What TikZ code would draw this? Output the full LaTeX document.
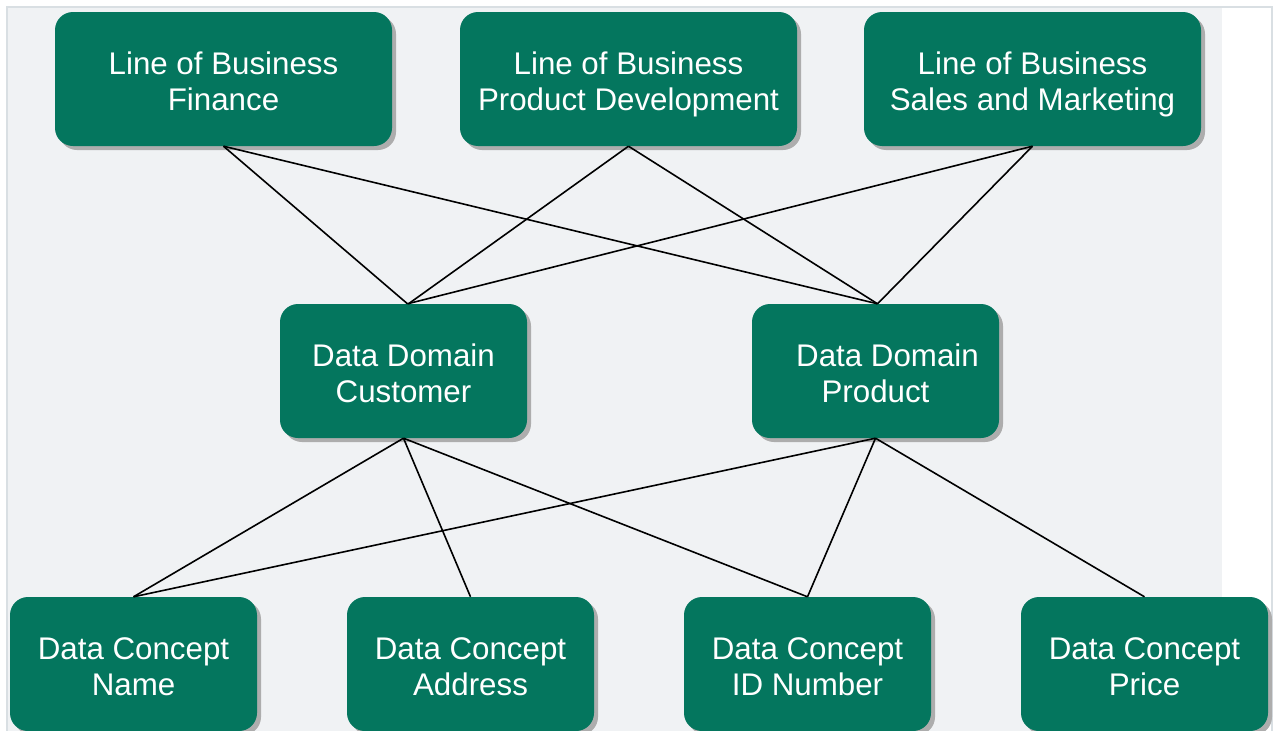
\documentclass[tikz,border=0pt]{standalone}
\usepackage{fontspec}
\setmainfont{Liberation Sans}
\usetikzlibrary{shadows}
\definecolor{boxgreen}{HTML}{04765E}
\definecolor{bggray}{HTML}{F0F2F4}
\definecolor{framegray}{HTML}{D9DFE3}
\newcommand\twolines[2]{\rule{0pt}{26pt}#1\\\smash{#2}}
\tikzset{
  gbox/.style={rectangle, rounded corners=18pt, fill=boxgreen, text=white,
    inner sep=0pt, align=center, font=\fontsize{31.3}{36}\selectfont,
    drop shadow={shadow xshift=4pt, shadow yshift=-4pt, fill=black!32, opacity=1}},
  wide/.style={gbox, minimum width=337pt, minimum height=134pt},
  mid/.style={gbox, minimum width=247pt, minimum height=134pt},
  link/.style={draw=black, line width=1.6pt}
}
\begin{document}
\begin{tikzpicture}[x=1pt,y=-1pt]
\useasboundingbox (0,0) rectangle (1275,731);
\fill[bggray] (7,7) rectangle (1222,735);
\draw[framegray, line width=1.2pt] (7,740) -- (7,7) -- (1272,7) -- (1272,740);
\node[wide] (fin) at (223.5,79) {\twolines{Line of Business}{Finance}};
\node[wide] (dev) at (628.5,79) {\twolines{Line of Business}{Product Development}};
\node[wide] (sal) at (1032.5,79) {\twolines{Line of Business}{Sales and Marketing}};
\node[mid] (cus) at (403.5,371) {\twolines{Data Domain}{Customer}};
\node[mid] (pro) at (875.5,371) {\twolines{\hspace*{24pt}Data Domain}{Product}};
\node[mid] (nam) at (133.5,664) {\twolines{Data Concept}{Name}};
\node[mid] (adr) at (470.5,664) {\twolines{Data Concept}{Address}};
\node[mid] (idn) at (807.5,664) {\twolines{Data Concept}{ID Number}};
\node[mid] (pri) at (1144.5,664) {\twolines{Data Concept}{Price}};
\draw[link] (fin.south) -- ([xshift=4pt]cus.north);
\draw[link] (fin.south) -- ([xshift=2pt]pro.north);
\draw[link] (dev.south) -- ([xshift=5pt]cus.north);
\draw[link] (dev.south) -- ([xshift=2pt]pro.north);
\draw[link] (sal.south) -- ([xshift=4pt]cus.north);
\draw[link] (sal.south) -- ([xshift=2pt]pro.north);
\draw[link] (cus.south) -- (nam.north);
\draw[link] (cus.south) -- (adr.north);
\draw[link] (cus.south) -- (idn.north);
\draw[link] (pro.south) -- (nam.north);
\draw[link] (pro.south) -- (idn.north);
\draw[link] (pro.south) -- (pri.north);
\end{tikzpicture}
\end{document}
